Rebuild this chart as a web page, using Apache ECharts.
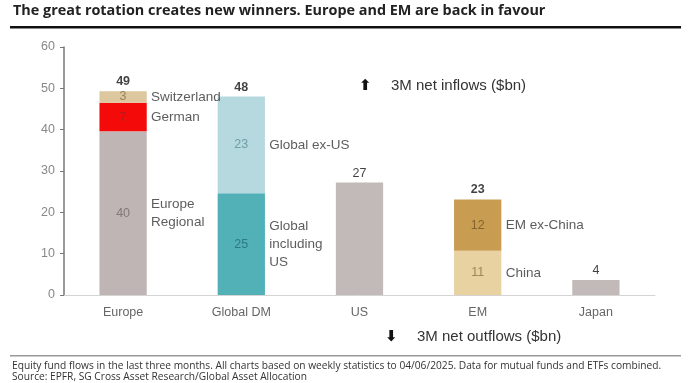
<!DOCTYPE html>
<html><head><meta charset="utf-8">
<script src="https://cdn.jsdelivr.net/npm/echarts@6/dist/echarts.min.js"></script>
<style>html,body{margin:0;padding:0;background:#fff}#c{width:694px;height:383px}</style>
</head><body><div id="c"></div>
<script>
const categories = ['Europe', 'Global DM', 'US', 'EM', 'Japan'];
const yTicks = [0, 10, 20, 30, 40, 50, 60];
// series values ($bn)
const europeRegional = [39.6, null, null, null, null];
const german = [6.9, null, null, null, null];
const switzerland = [2.8, null, null, null, null];
const globalInclUS = [null, 24.6, null, null, null];
const globalExUS = [null, 23.4, null, null, null];
const singleMarket = [null, null, 27.2, null, 3.6];
const china = [null, null, null, 10.7, null];
const emExChina = [null, null, null, 12.4, null];
const segmentNames = ['Europe\nRegional', 'German', 'Switzerland', 'Global\nincluding\nUS', 'Global ex-US', '', 'China', 'EM ex-China'];
const title = 'The great rotation creates new winners. Europe and EM are back in favour';
const footnote1 = 'Equity fund flows in the last three months. All charts based on weekly statistics to 04/06/2025. Data for mutual funds and ETFs combined.';
const footnote2 = 'Source: EPFR, SG Cross Asset Research/Global Asset Allocation';
const inflowText = '3M net inflows ($bn)';
const outflowText = '3M net outflows ($bn)';

const seriesData = [europeRegional, german, switzerland, globalInclUS, globalExUS, singleMarket, china, emExChina];
const colors = ['#bfb5b5', '#f50a0a', '#dcc79e', '#52b1b7', '#b5d9df', '#c2b9b9', '#e8d2a2', '#c89d52'];
const innerColors = ['#837878', '#b51a1a', '#9a8459', '#2d7c82', '#6f9ea6', null, '#9d875a', '#84642c'];

const FONT = 'Liberation Sans';
const series = [];
seriesData.forEach((d, i) => {
  series.push({
    type: 'bar', stack: 'total', data: d, barWidth: '40%',
    itemStyle: { color: colors[i] },
    label: {
      show: innerColors[i] !== null, position: 'inside',
      color: innerColors[i] || '#000', fontSize: 12.5, fontFamily: FONT,
      formatter: p => String(Math.round(p.value))
    },
    emphasis: { disabled: true }, silent: true
  });
});
// totals
const totals = categories.map((c, ci) => seriesData.reduce((s, d) => s + (d[ci] || 0), 0));
const stackedCats = categories.map((c, ci) => seriesData.filter(d => d[ci] != null).length > 1);
series.push({
  type: 'scatter', symbolSize: 0, silent: true,
  data: totals.map((t, ci) => ({ value: [ci, t], label: { fontWeight: stackedCats[ci] ? 'bold' : 'normal' } })),
  label: {
    show: true, position: 'top', distance: 3, fontSize: 12.5, fontFamily: FONT, color: '#111',
    formatter: p => String(Math.round(p.value[1]))
  }
});
// segment name annotations
const nameData = [];
categories.forEach((c, ci) => {
  let cum = 0;
  seriesData.forEach((d, i) => {
    if (d[ci] == null) return;
    const mid = cum + d[ci] / 2;
    cum += d[ci];
    if (segmentNames[i]) nameData.push({ value: [ci, mid], name: segmentNames[i] });
  });
});
series.push({
  type: 'scatter', symbolSize: 0, silent: true, data: nameData,
  label: {
    show: true, position: 'right', distance: 28, fontSize: 13.5, fontFamily: FONT,
    color: '#333', lineHeight: 18, align: 'left', formatter: p => p.name
  }
});

const chart = echarts.init(document.getElementById('c'), null, { renderer: 'canvas' });
chart.setOption({
  animation: false,
  grid: { left: 64, right: 39, top: 47, bottom: 88, containLabel: false },
  xAxis: {
    type: 'category', data: categories,
    axisLine: { lineStyle: { color: '#d4d4d4', width: 1 } },
    axisTick: { show: false },
    axisLabel: { color: '#666', fontSize: 12.5, fontFamily: FONT, margin: 11 }
  },
  yAxis: {
    type: 'value', min: yTicks[0], max: yTicks[yTicks.length - 1], interval: 10,
    axisLine: { show: true, lineStyle: { color: '#777', width: 1.5 } },
    axisTick: { show: true, inside: false, length: 4, lineStyle: { color: '#777' } },
    splitLine: { show: false },
    axisLabel: { color: '#888', fontSize: 12.5, fontFamily: FONT, margin: 9 }
  },
  series: series,
  graphic: [
    { type: 'text', left: 13, top: 4, style: { text: title, font: 'bold 14.4px "Open Sans"', fill: '#222' } },
    { type: 'rect', shape: { x: 10, y: 26, width: 671, height: 2.5 }, style: { fill: '#111' } },
    { type: 'text', left: 359, top: 79, style: { text: '⬆', font: 'bold 15px "DejaVu Sans"', fill: '#111' } },
    { type: 'text', left: 391, top: 78, style: { text: inflowText, font: '15px ' + FONT, fill: '#333' } },
    { type: 'text', left: 385, top: 330, style: { text: '⬇', font: 'bold 15px "DejaVu Sans"', fill: '#111' } },
    { type: 'text', left: 417, top: 329, style: { text: outflowText, font: '15px ' + FONT, fill: '#333' } },
    { type: 'rect', shape: { x: 10, y: 355, width: 671, height: 1.5 }, style: { fill: '#999' } },
    { type: 'text', left: 12, top: 361, style: { text: footnote1, font: '10.2px "Open Sans"', fill: '#333' } },
    { type: 'text', left: 12, top: 372, style: { text: footnote2, font: '10.2px "Open Sans"', fill: '#333' } }
  ]
});
</script></body></html>
